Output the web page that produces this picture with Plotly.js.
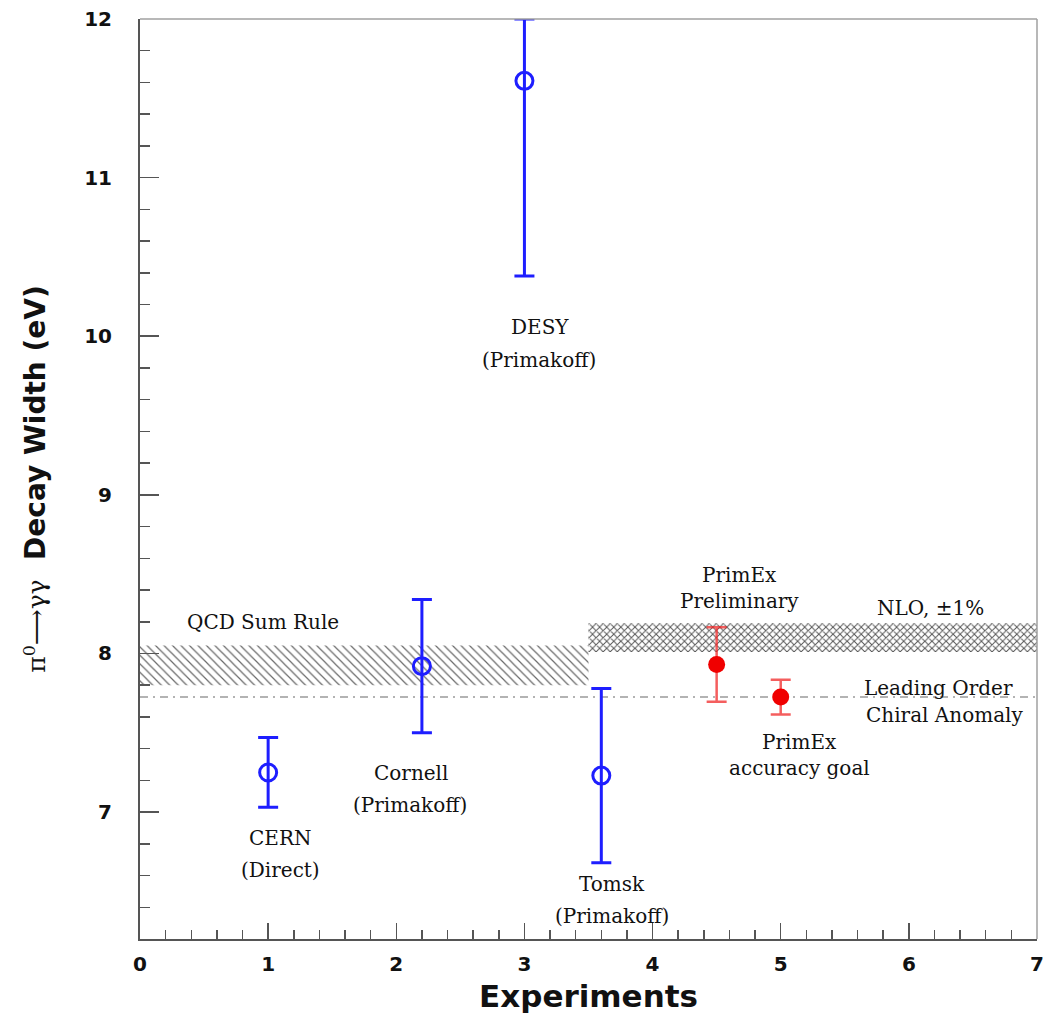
<!DOCTYPE html>
<html>
<head>
<meta charset="utf-8">
<script src="https://cdn.plot.ly/plotly-3.0.1.min.js"></script>
<style>
  html, body { margin: 0; padding: 0; background: #ffffff; }
  #chart { width: 1044px; height: 1021px; }
</style>
</head>
<body>
<div id="chart"></div>
<script>
// pi0 -> gamma gamma decay width measurements (eV)
const pastExperiments = ["CERN", "Cornell", "DESY", "Tomsk"];
const pastX      = [1.0, 2.2, 3.0, 3.6];
const pastWidth  = [7.25, 7.92, 11.61, 7.23];
const pastErrHi  = [0.22, 0.42, 0.39, 0.55];
const pastErrLo  = [0.22, 0.42, 1.23, 0.55];

const primexLabels = ["PrimEx Preliminary", "PrimEx accuracy goal"];
const primexX      = [4.5, 5.0];
const primexWidth  = [7.93, 7.725];
const primexErr    = [0.235, 0.11];

// theory predictions
const leadingOrder = 7.725;
const qcdBandX  = [0, 3.5];
const qcdBandY  = [7.80, 8.05];
const nloBandX  = [3.5, 7];
const nloBandY  = [8.01, 8.19];

// text labels on the plot
const labelText = [
  "DESY", "(Primakoff)",
  "QCD Sum Rule",
  "Cornell", "(Primakoff)",
  "CERN", "(Direct)",
  "Tomsk", "(Primakoff)",
  "PrimEx", "Preliminary",
  "NLO, ±1%",
  "Leading Order", "Chiral Anomaly",
  "PrimEx", "accuracy goal"
];
const labelAt = [
  [3.12, 10.06], [3.11, 9.85],
  [0.96, 8.20],
  [2.115, 7.246], [2.107, 7.044],
  [1.093, 6.836], [1.093, 6.634],
  [3.683, 6.546], [3.683, 6.344],
  [4.68, 8.494], [4.68, 8.33],
  [6.165, 8.286],
  [6.228, 7.782], [6.282, 7.612],
  [5.15, 7.441], [5.15, 7.277]
];

const BLUE = "rgb(30,30,255)";
const RED  = "rgb(240,0,0)";
const SERIF = "DejaVu Serif, Liberation Serif, serif";
const SANS  = "DejaVu Sans, Liberation Sans, sans-serif";

function band(xs, ys) {
  return {
    x: [xs[0], xs[1], xs[1], xs[0], xs[0]],
    y: [ys[0], ys[0], ys[1], ys[1], ys[0]]
  };
}

const qcd = band(qcdBandX, qcdBandY);
const nlo = band(nloBandX, nloBandY);

const traces = [
  {
    type: "scatter", mode: "lines", x: qcd.x, y: qcd.y,
    fill: "toself", fillcolor: "rgba(255,255,255,0)",
    fillpattern: { shape: "\\", fgcolor: "#6a6a6a", bgcolor: "#ffffff", size: 6, solidity: 0.2 },
    line: { width: 0 }, hoverinfo: "skip", showlegend: false
  },
  {
    type: "scatter", mode: "lines", x: nlo.x, y: nlo.y,
    fill: "toself", fillcolor: "rgba(255,255,255,0)",
    fillpattern: { shape: "x", fgcolor: "#555555", bgcolor: "#ffffff", size: 5, solidity: 0.35 },
    line: { width: 0 }, hoverinfo: "skip", showlegend: false
  },
  {
    type: "scatter", mode: "lines",
    x: [0, 7], y: [leadingOrder, leadingOrder],
    line: { color: "#9a9a9a", width: 1.5, dash: "8px,5px,2px,5px" },
    hoverinfo: "skip", showlegend: false
  },
  {
    type: "scatter", mode: "markers", name: "Past experiments",
    x: pastX, y: pastWidth, text: pastExperiments,
    marker: { symbol: "circle-open", size: 17, color: BLUE, line: { width: 3, color: BLUE } },
    error_y: { type: "data", symmetric: false, array: pastErrHi, arrayminus: pastErrLo,
               color: BLUE, thickness: 3, width: 10 },
    showlegend: false
  },
  {
    type: "scatter", mode: "markers", name: "PrimEx",
    x: primexX, y: primexWidth, text: primexLabels,
    marker: { symbol: "circle", size: 17, color: RED },
    error_y: { type: "data", array: primexErr, color: "rgba(240,40,40,0.75)", thickness: 2.5, width: 10 },
    showlegend: false
  }
];

const annotations = labelText.map((t, i) => ({
  x: labelAt[i][0], y: labelAt[i][1], xref: "x", yref: "y",
  text: t, showarrow: false,
  font: { family: SERIF, size: 20, color: "#111111" },
  xanchor: "center", yanchor: "middle"
}));

const layout = {
  width: 1044, height: 1021,
  paper_bgcolor: "#ffffff", plot_bgcolor: "#ffffff",
  margin: { l: 140, r: 7, t: 19, b: 82 },
  showlegend: false,
  xaxis: {
    range: [0, 7], dtick: 1, tick0: 0,
    ticks: "inside", ticklen: 16, tickwidth: 1.5, tickcolor: "#555555",
    minor: { dtick: 0.2, ticks: "inside", ticklen: 9, tickwidth: 1.5, tickcolor: "#555555" },
    showline: true, linecolor: "#555555", linewidth: 2,
    showgrid: false, zeroline: false,
    ticklabelstandoff: 6,
    tickfont: { family: SANS, size: 20, weight: "bold", color: "#111111" },
    title: { text: "Experiments", font: { family: SANS, size: 31, weight: "bold", color: "#111111" }, standoff: 10 }
  },
  yaxis: {
    range: [6.2, 12], dtick: 1, tick0: 0,
    ticks: "inside", ticklen: 19, tickwidth: 1.5, tickcolor: "#555555",
    minor: { dtick: 0.2, ticks: "inside", ticklen: 10, tickwidth: 1.5, tickcolor: "#555555" },
    showline: true, linecolor: "#555555", linewidth: 2,
    showgrid: false, zeroline: false,
    ticklabelstandoff: 22,
    tickfont: { family: SANS, size: 20, weight: "bold", color: "#111111" },
    title: {
      text: "<span style='font-family:DejaVu Serif;font-weight:normal;font-size:25px'>π<sup>0</sup>⟶γγ</span>&nbsp;&nbsp;Decay Width (eV)",
      font: { family: SANS, size: 28, weight: "bold", color: "#111111" },
      standoff: 30
    }
  },
  shapes: [
    { type: "line", xref: "paper", yref: "paper", x0: 0, x1: 1, y0: 1, y1: 1,
      line: { color: "#a0a0a0", width: 1.5 } },
    { type: "line", xref: "paper", yref: "paper", x0: 1, x1: 1, y0: 0, y1: 1,
      line: { color: "#a0a0a0", width: 1.5 } }
  ],
  annotations: annotations
};

Plotly.newPlot("chart", traces, layout, { displayModeBar: false, staticPlot: true });
</script>
</body>
</html>
